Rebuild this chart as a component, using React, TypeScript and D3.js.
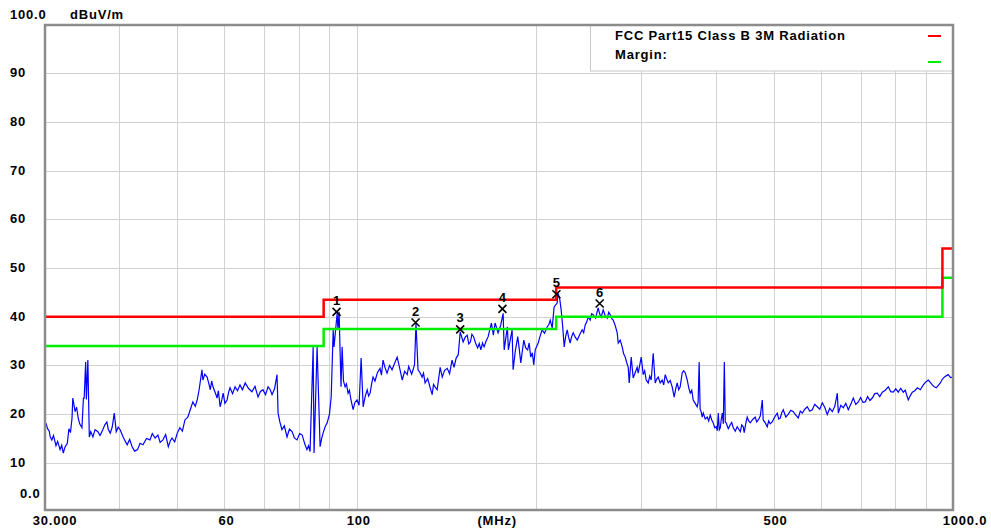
import React, { useEffect, useRef } from 'react';
import * as d3 from 'd3';

// measured trace, [MHz, dBuV/m]
const trace: [number, number][] = [
  [30.1, 18.2], [30.3, 17.0], [30.5, 16.5], [30.6, 15.4], [30.8, 14.7], [31.0, 15.6], [31.3, 13.5],
  [31.5, 14.4], [31.8, 12.7], [32.0, 13.6], [32.2, 12.0], [32.4, 13.2], [32.7, 14.0], [32.9, 17.0],
  [33.1, 16.2], [33.3, 19.2], [33.4, 23.3], [33.7, 20.5], [33.9, 21.4], [34.1, 19.2], [34.3, 18.0],
  [34.6, 17.2], [34.8, 23.3], [34.9, 23.3], [35.1, 30.7], [35.2, 23.0], [35.4, 31.1], [35.6, 15.3],
  [35.8, 16.4], [36.1, 15.3], [36.4, 16.8], [36.8, 16.4], [37.1, 15.6], [37.5, 16.8], [37.8, 17.8],
  [38.1, 18.4], [38.3, 16.9], [38.6, 16.1], [38.9, 17.4], [39.2, 20.2], [39.5, 16.4], [39.8, 17.3],
  [40.1, 16.8], [40.6, 15.2], [41.2, 13.7], [41.6, 14.8], [42.0, 13.3], [42.4, 12.4], [42.9, 12.7],
  [43.3, 14.0], [43.8, 13.7], [44.4, 15.0], [45.0, 14.7], [45.4, 16.0], [45.9, 15.1], [46.4, 15.7],
  [46.8, 14.2], [47.3, 14.7], [47.8, 15.8], [48.3, 13.3], [48.7, 14.6], [49.0, 15.1], [49.5, 14.3],
  [50.0, 16.1], [50.5, 17.2], [51.0, 16.5], [51.5, 18.8], [52.1, 19.4], [52.6, 21.0], [53.1, 22.5],
  [53.6, 21.6], [54.0, 22.9], [54.4, 25.0], [55.0, 29.1], [55.2, 27.0], [55.6, 28.2], [56.1, 27.6],
  [56.5, 26.2], [56.8, 25.0], [57.1, 26.8], [57.4, 25.6], [57.9, 24.4], [58.3, 23.3], [58.6, 24.8],
  [59.0, 21.5], [59.4, 23.0], [59.7, 24.3], [60.1, 22.2], [60.6, 22.9], [61.0, 24.6], [61.3, 25.4],
  [61.9, 24.2], [62.5, 25.6], [63.1, 24.8], [63.7, 26.0], [64.3, 25.0], [65.0, 26.4], [65.8, 25.3],
  [66.7, 24.6], [67.5, 25.7], [68.3, 23.5], [68.9, 24.6], [69.6, 25.0], [70.3, 24.0], [71.0, 25.6],
  [71.6, 25.0], [72.1, 24.0], [72.8, 25.2], [73.5, 28.1], [73.8, 20.2], [74.3, 18.4], [74.9, 16.8],
  [75.6, 17.6], [76.4, 15.3], [77.1, 16.9], [77.9, 16.4], [78.6, 15.1], [79.4, 14.7], [80.2, 16.0],
  [81.0, 15.7], [81.8, 13.9], [82.5, 12.7], [83.0, 13.5], [83.5, 12.3], [84.5, 33.8], [84.8, 12.0],
  [85.8, 33.8], [86.8, 13.3], [87.3, 14.9], [87.8, 16.1], [88.5, 17.4], [89.2, 18.2], [90.0, 20.0],
  [90.6, 23.5], [91.3, 37.3], [91.6, 33.8], [92.7, 40.7], [93.0, 37.3], [93.4, 41.0], [94.1, 25.6],
  [94.5, 33.8], [95.0, 26.8], [95.6, 25.6], [96.1, 26.2], [96.7, 24.3], [97.2, 24.9], [97.8, 22.9],
  [98.6, 20.9], [99.3, 22.4], [100.1, 22.9], [100.9, 21.8], [101.7, 31.5], [102.5, 21.5], [103.3, 23.6],
  [104.1, 25.0], [104.7, 23.7], [105.3, 24.3], [105.9, 26.2], [106.5, 27.6], [107.3, 26.8], [108.3, 28.5],
  [109.4, 29.4], [110.0, 28.0], [110.7, 31.1], [111.5, 29.6], [112.4, 28.4], [113.5, 30.0], [114.6, 29.1],
  [115.7, 30.4], [116.9, 31.7], [118.0, 29.5], [119.2, 27.0], [120.3, 28.8], [121.5, 28.1], [122.2, 29.8],
  [122.9, 29.0], [123.6, 28.2], [124.3, 29.1], [125.0, 30.2], [125.7, 38.7], [126.7, 29.1], [127.7, 28.5],
  [128.7, 27.6], [129.4, 28.4], [130.2, 26.4], [131.5, 27.3], [132.8, 25.4], [133.8, 24.0], [134.5, 26.1],
  [135.3, 25.6], [136.4, 25.0], [137.2, 27.3], [138.0, 29.6], [139.1, 27.6], [140.4, 29.0], [141.8, 29.4],
  [143.1, 28.3], [144.5, 31.1], [145.6, 29.6], [146.8, 31.5], [148.0, 32.2], [149.1, 36.9], [150.8, 34.8],
  [152.0, 35.8], [153.2, 36.2], [154.1, 34.4], [155.1, 34.8], [156.0, 36.4], [157.0, 35.9], [158.2, 34.6],
  [159.5, 33.6], [160.5, 34.5], [161.5, 33.2], [162.5, 34.6], [163.5, 33.8], [164.8, 35.0], [166.1, 35.9],
  [167.2, 37.4], [168.2, 38.7], [169.5, 36.2], [170.6, 38.7], [172.6, 36.7], [174.3, 38.2], [176.0, 40.7],
  [176.7, 33.2], [178.9, 37.9], [179.6, 33.2], [182.2, 37.3], [182.9, 29.1], [184.5, 33.0], [186.2, 35.9],
  [187.3, 33.4], [188.4, 30.5], [190.6, 35.2], [192.0, 33.6], [193.5, 33.2], [194.6, 34.6], [195.8, 31.7],
  [197.0, 32.6], [198.1, 30.1], [199.2, 33.2], [201.5, 34.6], [203.0, 36.0], [204.6, 37.3], [206.5, 36.6],
  [208.6, 37.9], [210.0, 38.4], [211.1, 39.3], [212.7, 37.7], [214.3, 42.0], [216.8, 42.8], [217.6, 44.8],
  [219.0, 43.6], [220.2, 41.4], [221.5, 38.0], [222.8, 33.8], [224.1, 36.0], [225.4, 37.3], [226.7, 35.7],
  [228.0, 34.6], [229.4, 36.0], [230.7, 36.7], [232.5, 35.8], [234.3, 35.2], [236.5, 36.3], [238.8, 37.3],
  [240.2, 36.7], [241.6, 38.3], [243.0, 38.9], [244.4, 39.9], [246.3, 39.3], [247.7, 40.6], [249.2, 40.4],
  [251.5, 39.7], [254.0, 41.8], [255.5, 40.6], [257.0, 39.9], [259.0, 41.4], [261.0, 40.2], [263.1, 39.7],
  [264.6, 40.9], [266.2, 40.4], [267.7, 39.6], [269.2, 39.3], [271.3, 38.2], [273.4, 36.7], [274.5, 34.6],
  [276.6, 35.2], [278.7, 33.8], [280.3, 32.4], [282.0, 31.7], [283.6, 30.6], [285.3, 29.6], [286.4, 26.4],
  [288.6, 31.7], [290.8, 27.4], [293.0, 28.5], [295.3, 29.6], [296.5, 28.4], [298.2, 30.0], [300.0, 31.7],
  [302.3, 28.1], [304.0, 28.9], [305.8, 27.0], [308.2, 26.4], [310.0, 27.8], [311.8, 27.0], [314.2, 32.5],
  [316.6, 26.4], [318.5, 27.2], [320.3, 27.6], [322.8, 26.4], [325.3, 27.0], [327.2, 26.0], [329.1, 28.1],
  [331.0, 27.2], [333.0, 26.4], [335.5, 26.9], [338.1, 25.6], [340.7, 23.5], [342.7, 25.2], [344.7, 26.4],
  [346.7, 25.0], [348.7, 25.6], [351.4, 28.5], [353.5, 28.9], [355.5, 28.5], [358.3, 27.0], [360.4, 25.4],
  [362.5, 24.3], [364.6, 24.9], [366.7, 22.9], [369.5, 22.2], [372.3, 21.5], [373.7, 22.4], [375.2, 30.7],
  [376.6, 21.0], [378.1, 20.5], [379.6, 19.4], [381.2, 20.2], [384.1, 19.0], [387.1, 19.4], [389.3, 18.6],
  [391.6, 19.8], [393.9, 18.8], [396.2, 18.2], [398.5, 17.2], [400.8, 17.4], [402.4, 16.6], [404.0, 20.2],
  [405.5, 16.8], [407.1, 17.2], [408.7, 19.0], [410.3, 20.2], [411.9, 18.0], [413.5, 30.7], [415.0, 18.4],
  [416.5, 18.2], [419.8, 17.0], [423.0, 17.8], [425.5, 18.3], [428.0, 17.2], [431.3, 16.5], [434.6, 17.4],
  [437.2, 16.9], [439.8, 16.4], [442.3, 17.8], [444.8, 17.4], [446.5, 16.2], [449.1, 18.0], [451.7, 19.4],
  [454.3, 18.6], [457.0, 18.2], [461.4, 18.9], [465.9, 19.4], [468.6, 18.4], [471.4, 18.8], [475.1, 19.6],
  [478.8, 22.9], [480.5, 18.8], [484.3, 18.2], [488.0, 17.4], [490.8, 18.6], [493.7, 18.0], [497.5, 18.4],
  [502.3, 19.4], [507.2, 20.2], [510.2, 19.0], [513.2, 19.2], [516.2, 20.3], [519.2, 20.9], [524.3, 19.4],
  [529.4, 20.0], [534.5, 20.8], [539.7, 20.5], [545.0, 19.8], [550.2, 19.2], [554.5, 20.6], [558.8, 20.2],
  [564.2, 21.0], [569.6, 21.5], [575.1, 20.6], [580.7, 20.9], [586.3, 22.0], [592.0, 21.5], [597.8, 21.0],
  [603.6, 22.3], [609.4, 21.4], [615.3, 19.9], [621.3, 21.2], [627.4, 20.5], [633.5, 21.6], [639.7, 24.3],
  [642.2, 20.2], [648.4, 21.8], [654.6, 21.3], [661.0, 22.2], [667.4, 20.9], [673.8, 22.0], [680.3, 23.3],
  [687.0, 22.0], [693.6, 22.5], [700.0, 23.4], [706.2, 22.4], [712.6, 22.5], [719.0, 23.6], [725.6, 22.8],
  [732.2, 23.3], [739.3, 24.2], [746.5, 24.3], [753.7, 23.6], [761.1, 24.5], [769.9, 24.9], [778.8, 25.6],
  [786.3, 24.6], [793.9, 24.5], [801.6, 25.2], [809.4, 24.5], [817.3, 25.3], [825.3, 24.5], [831.7, 24.9],
  [838.2, 23.5], [841.4, 22.9], [848.0, 23.8], [854.6, 24.5], [862.9, 24.8], [871.3, 25.4], [881.4, 25.0],
  [891.6, 26.0], [900.3, 26.6], [909.0, 27.0], [916.0, 26.5], [923.1, 26.0], [930.3, 25.6], [937.5, 25.4],
  [944.8, 25.9], [952.2, 26.4], [957.8, 27.0], [963.3, 27.4], [972.3, 27.8], [981.4, 28.1], [990.7, 27.5],
  [1000, 27.6],
];

// FCC Part15 Class B 3m limit (step after)
const limitSteps: [number, number][] = [[30, 40], [88, 43.5], [216, 46], [960, 54], [1000, 54]];
// margin line = limit - 6 dB
const marginSteps: [number, number][] = [[30, 34], [88, 37.5], [216, 40], [960, 48], [1000, 48]];

const markers = [
  { id: '1', f: 92.5, v: 41.0 },
  { id: '2', f: 125.5, v: 38.8 },
  { id: '3', f: 149.1, v: 37.4 },
  { id: '4', f: 175.5, v: 41.6 },
  { id: '5', f: 216.2, v: 44.6 },
  { id: '6', f: 255.5, v: 42.7 },
];

const xGrid = [40, 50, 60, 70, 80, 90, 100, 200, 300, 400, 500, 600, 700, 800, 900];
const yGrid = [10, 20, 30, 40, 50, 60, 70, 80, 90];
const yLabels = ['10', '20', '30', '40', '50', '60', '70', '80', '90'];
const xLabels: [number, string][] = [[30, '30.000'], [60, '60'], [100, '100'], [500, '500'], [1000, '1000.0']];

const W = 991;
const H = 530;

const App: React.FC = () => {
  const svgRef = useRef<SVGSVGElement>(null);

  useEffect(() => {
    if (!svgRef.current) return;
    const svg = d3.select(svgRef.current);
    svg.selectAll('*').remove();

    const left = 45, right = 953, top = 25, bottom = 510;
    const font = '"Liberation Sans", Arial, sans-serif';

    const x = d3.scaleLog().domain([30, 1000]).range([left, right]);
    const y = d3.scaleLinear().domain([0, 100]).range([511.5, 24.5]);

    svg.append('rect').attr('width', W).attr('height', H).attr('fill', '#fff');

    // grid
    const grid = svg.append('g').attr('stroke', '#d2d2d2').attr('stroke-width', 1);
    grid.selectAll('line.v').data(xGrid).enter().append('line')
      .attr('x1', d => Math.round(x(d)) + 0.5).attr('x2', d => Math.round(x(d)) + 0.5)
      .attr('y1', top).attr('y2', bottom);
    grid.selectAll('line.h').data(yGrid).enter().append('line')
      .attr('x1', left).attr('x2', right)
      .attr('y1', d => Math.round(y(d)) + 0.5).attr('y2', d => Math.round(y(d)) + 0.5);

    // legend box
    svg.append('rect').attr('x', 590.5).attr('y', 25).attr('width', 362).attr('height', 46)
      .attr('fill', '#fff').attr('stroke', '#c8c8c8');
    const lg = svg.append('g').attr('font-family', font).attr('font-size', 13).attr('font-weight', 'bold')
      .attr('letter-spacing', 0.8).attr('fill', '#000');
    lg.append('text').attr('x', 615).attr('y', 40).text('FCC Part15 Class B 3M Radiation');
    lg.append('text').attr('x', 615).attr('y', 59).text('Margin:');
    svg.append('line').attr('x1', 928).attr('x2', 941).attr('y1', 36).attr('y2', 36).attr('stroke', '#ff0000').attr('stroke-width', 2);
    svg.append('line').attr('x1', 928).attr('x2', 941).attr('y1', 62).attr('y2', 62).attr('stroke', '#00ee00').attr('stroke-width', 2);

    svg.append('defs').append('clipPath').attr('id', 'plot-clip')
      .append('rect').attr('x', left).attr('y', top).attr('width', right - left).attr('height', bottom - top);

    const stepLine = d3.line<[number, number]>().x(d => x(d[0])).y(d => y(d[1])).curve(d3.curveStepAfter);

    // trace
    const traceLine = d3.line<[number, number]>().x(d => x(d[0])).y(d => y(d[1]));
    svg.append('path').datum(trace).attr('d', traceLine).attr('fill', 'none')
      .attr('stroke', '#0000ff').attr('stroke-width', 1.2).attr('clip-path', 'url(#plot-clip)');

    svg.append('path').datum(marginSteps).attr('d', stepLine).attr('fill', 'none')
      .attr('stroke', '#00ee00').attr('stroke-width', 2.5).attr('clip-path', 'url(#plot-clip)');
    svg.append('path').datum(limitSteps).attr('d', stepLine).attr('fill', 'none')
      .attr('stroke', '#ff0000').attr('stroke-width', 2.5).attr('clip-path', 'url(#plot-clip)');

    // markers
    const mk = svg.append('g').selectAll('g').data(markers).enter().append('g')
      .attr('transform', d => `translate(${x(d.f)},${y(d.v)})`);
    mk.append('path').attr('d', 'M-4,-4L4,4M-4,4L4,-4').attr('stroke', '#000').attr('stroke-width', 1.6);
    mk.append('text').attr('x', 0).attr('y', -7).attr('text-anchor', 'middle')
      .attr('font-family', font).attr('font-size', 13).attr('font-weight', 'bold').text(d => d.id);

    // frame
    svg.append('rect').attr('x', left).attr('y', top).attr('width', right - left).attr('height', bottom - top)
      .attr('fill', 'none').attr('stroke', '#8c8c8c').attr('stroke-width', 2.5);

    // y labels
    const ax = svg.append('g').attr('font-family', font).attr('font-size', 13).attr('font-weight', 'bold')
      .attr('letter-spacing', 0.8).attr('fill', '#000');
    ax.selectAll('text.y').data(yGrid).enter().append('text')
      .attr('x', 10).attr('y', d => y(d) + 4).text((d, i) => yLabels[i]);
    ax.append('text').attr('x', 20).attr('y', 498).text('0.0');
    ax.append('text').attr('x', 10).attr('y', 19).text('100.0');
    ax.append('text').attr('x', 70).attr('y', 19).text('dBuV/m');

    // x labels
    ax.selectAll('text.x').data(xLabels).enter().append('text')
      .attr('x', d => x(d[0]) + (d[0] === 30 ? 10 : d[0] === 1000 ? 12 : 2)).attr('y', 525)
      .attr('text-anchor', 'middle').text(d => d[1]);
    ax.append('text').attr('x', x(172)).attr('y', 525).attr('text-anchor', 'middle').text('(MHz)');
  }, []);

  return (
    <svg ref={svgRef} width={W} height={H} style={{ position: 'absolute', left: 0, top: 0 }} />
  );
};

export default App;
